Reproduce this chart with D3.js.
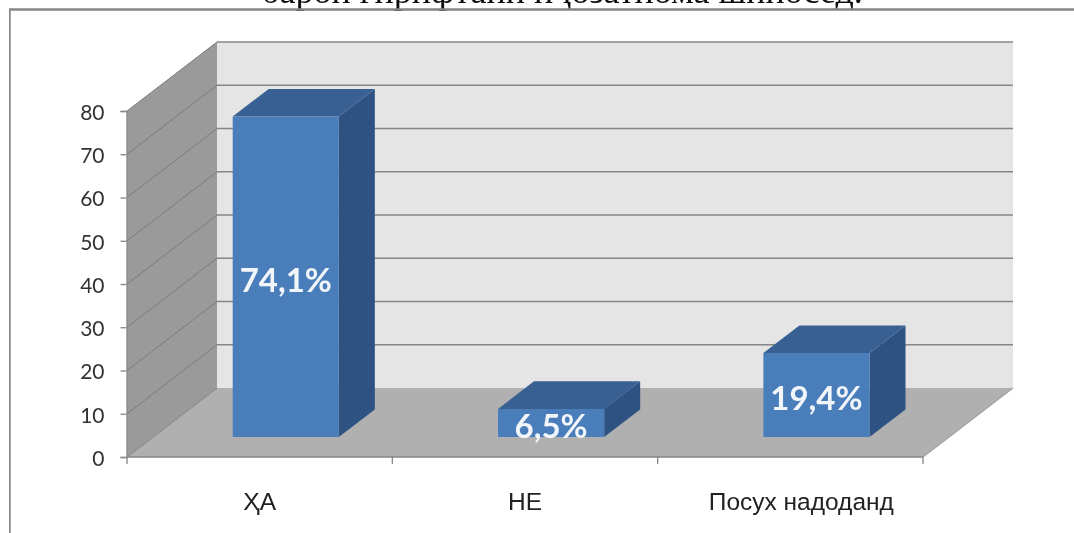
<!DOCTYPE html>
<html><head><meta charset="utf-8">
<script src="https://cdn.jsdelivr.net/npm/d3@7/dist/d3.min.js"></script>
<style>html,body{margin:0;padding:0;background:#fff;overflow:hidden}svg{display:block}</style>
</head><body><svg id="c" width="1074" height="533"></svg>
<script>
const titleText = "барои гирифтани иҷозатнома шиносед.";
const categories = ["ҲА", "НЕ", "Посух надоданд"];
const values = [74.1, 6.5, 19.4];
const valueLabels = ["74,1%", "6,5%", "19,4%"];
const yTicks = [0, 10, 20, 30, 40, 50, 60, 70, 80];

const W = 1074, H = 533;
const root = d3.select("#c");
const defs = root.append("defs");
defs.append("filter").attr("id", "soft").attr("x", 0).attr("y", 0).attr("width", 1).attr("height", 1)
  .append("feGaussianBlur").attr("stdDeviation", 0.45);
root.append("rect").attr("width", W).attr("height", H).attr("fill", "#fff");
const svg = root.append("g").attr("filter", "url(#soft)");

const x = d3.scaleBand().domain(categories).range([127, 923]).paddingInner(0).paddingOuter(0);
const y = d3.scaleLinear().domain([0, 80]).range([457, 111]);
// oblique projection: depth 0 (front) .. 1 (back wall)
const depthX = d3.scaleLinear().domain([0, 1]).range([0, 90]);
const depthY = d3.scaleLinear().domain([0, 1]).range([0, -69]);
const P = (px, v, d) => [px + depthX(d), y(v) + depthY(d)];
const poly = pts => "M" + pts.map(p => p.join(",")).join("L") + "Z";

const grey = "#868686";

// title, cut by the top of the picture as in the reference
svg.append("text").attr("x", 562).attr("y", 3).attr("text-anchor", "middle")
  .attr("font-family", "Liberation Serif").attr("font-size", 36).attr("fill", "#111").text(titleText);

// outer frame (top and left only are visible)
svg.append("path").attr("d", `M${W + 5},9.5H9.5V${H + 5}`).attr("fill", "none").attr("stroke", "#858585").attr("stroke-width", 2.4);

const [x0, x1] = x.range();
// walls and floor
svg.append("path").attr("fill", "#e5e5e5").attr("d", poly([P(x0, 80, 1), P(x1, 80, 1), P(x1, 0, 1), P(x0, 0, 1)]));
svg.append("path").attr("fill", "#9a9a9a").attr("d", poly([P(x0, 80, 0), P(x0, 80, 1), P(x0, 0, 1), P(x0, 0, 0)]));
svg.append("path").attr("fill", "#b0b0b0").attr("d", poly([P(x0, 0, 0), P(x0, 0, 1), P(x1, 0, 1), P(x1, 0, 0)]));

// gridlines: on the side wall, then along the back wall
const line = d3.line();
yTicks.forEach(t => {
  if (t > 0) {
    svg.append("path").attr("fill", "none").attr("stroke", "#7a7a7a").attr("stroke-width", 1)
      .attr("d", line([P(x0, t, 0), P(x0, t, 1)]));
    svg.append("path").attr("fill", "none").attr("stroke", grey).attr("stroke-width", 1.4)
      .attr("d", line([P(x0, t, 1), P(x1, t, 1)]));
  }
});
svg.append("path").attr("fill", "none").attr("stroke", "#8c8c8c").attr("stroke-width", 1.1)
  .attr("d", line([P(x0, 0, 0), P(x0, 0, 1)]));
svg.append("path").attr("fill", "none").attr("stroke", "#a0a0a0").attr("stroke-width", 1.1)
  .attr("d", line([P(x1, 0, 0), P(x1, 0, 1)]));

// axes
const yAxis = d3.axisLeft(y).tickValues(yTicks).tickSize(6).tickPadding(16);
const gy = svg.append("g").attr("transform", `translate(${x0 - .5},0)`).call(yAxis);
gy.selectAll("text").attr("font-family", "Lato").attr("font-size", 21).attr("fill", "#333").attr("dy", "0.4em");
gy.selectAll("line,path").attr("stroke", grey).attr("stroke-width", 1.3);

const xTickPos = d3.range(categories.length + 1).map(i => x0 + i * x.step());
const gx = svg.append("g");
gx.append("path").attr("d", `M${x0},${y(0)}H${x1}`).attr("stroke", grey).attr("stroke-width", 1.5);
gx.selectAll("line").data(xTickPos).join("line")
  .attr("x1", d => d).attr("x2", d => d).attr("y1", y(0)).attr("y2", y(0) + 7)
  .attr("stroke", grey).attr("stroke-width", 1.3);
svg.append("g").selectAll("text").data(categories).join("text")
  .attr("x", (d, i) => x(d) + x.bandwidth() / 2 + (i === 2 ? 11 : 0))
  .attr("y", 510).attr("text-anchor", "middle")
  .attr("font-family", "Liberation Sans").attr("font-size", 24.5).attr("fill", "#222").text(d => d);

// bars
const front = 0.29, back = 0.69, pad = 0.3;
categories.forEach((c, i) => {
  const l = x(c) + x.bandwidth() * pad, r = x(c) + x.bandwidth() * (1 - pad), v = values[i];
  const g = svg.append("g");
  g.append("path").attr("fill", "#2f5383").attr("d", poly([P(r, 0, front), P(r, 0, back), P(r, v, back), P(r, v, front)]));
  g.append("path").attr("fill", "#386192").attr("d", poly([P(l, v, front), P(l, v, back), P(r, v, back), P(r, v, front)]));
  g.append("path").attr("fill", "#4a7ebb").attr("d", poly([P(l, 0, front), P(r, 0, front), P(r, v, front), P(l, v, front)]));
  const pc = P((l + r) / 2, v / 2, front);
  g.append("text").attr("x", pc[0]).attr("y", pc[1] + 3).attr("dy", ".36em").attr("text-anchor", "middle")
    .attr("font-family", "Lato").attr("font-weight", 700).attr("font-size", 33).attr("fill", "#f2f6fa").text(valueLabels[i]);
});
</script></body></html>
